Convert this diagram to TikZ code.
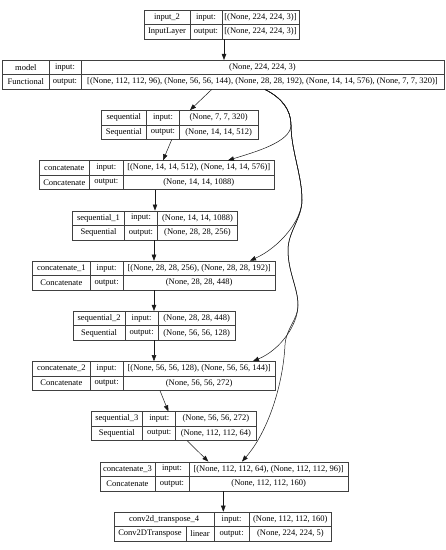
\documentclass[tikz,border=0pt]{standalone}
\usepackage{fontspec}
\setmainfont{Liberation Serif}
\usetikzlibrary{arrows.meta}
\tikzset{
 cell/.style={draw=black!75, line width=0.55pt, inner sep=0pt, font=\fontsize{8.5}{10}\selectfont, anchor=center},
 edge/.style={draw=black!90, line width=0.5pt, -{Triangle[length=6pt,width=4.5pt]}},
}
\newcommand{\cellnode}[6]{\node[cell, minimum width={#3-#2}, minimum height={#5-#4}] (#1) at ({(#2+#3)/2},{(#4+#5)/2}) {#6};}
\begin{document}
\begin{tikzpicture}[x=1pt,y=-1pt]
\fill[white] (0,0) rectangle (446,550);
\useasboundingbox (0,0) rectangle (446,550);
% input_2
\cellnode{iA}{144}{190}{10}{24.5}{input\_2}
\cellnode{iB}{190}{222}{10}{24.5}{input:}
\cellnode{iC}{222}{299}{10}{24.5}{[(None, 224, 224, 3)]}
\cellnode{iD}{144}{190}{24.5}{39}{InputLayer}
\cellnode{iE}{190}{222}{24.5}{39}{output:}
\cellnode{iF}{222}{299}{24.5}{39}{[(None, 224, 224, 3)]}
% model
\cellnode{mA}{2.7}{49}{60.2}{74.7}{model}
\cellnode{mB}{49}{81}{60.2}{74.7}{input:}
\cellnode{mC}{81}{444}{60.2}{74.7}{(None, 224, 224, 3)}
\cellnode{mD}{2.7}{49}{74.7}{89.2}{Functional}
\cellnode{mE}{49}{81}{74.7}{89.2}{output:}
\cellnode{mF}{81}{444}{74.7}{89.2}{[(None, 112, 112, 96), (None, 56, 56, 144), (None, 28, 28, 192), (None, 14, 14, 576), (None, 7, 7, 320)]}
% sequential
\cellnode{sA}{101}{146.7}{110.4}{124.9}{sequential}
\cellnode{sB}{146.7}{179.3}{110.4}{124.9}{input:}
\cellnode{sC}{179.3}{258}{110.4}{124.9}{(None, 7, 7, 320)}
\cellnode{sD}{101}{146.7}{124.9}{139.4}{Sequential}
\cellnode{sE}{146.7}{179.3}{124.9}{139.4}{output:}
\cellnode{sF}{179.3}{258}{124.9}{139.4}{(None, 14, 14, 512)}
% concatenate
\cellnode{cA}{39.3}{89.3}{160.6}{175.1}{concatenate}
\cellnode{cB}{89.3}{123.3}{160.6}{175.1}{input:}
\cellnode{cC}{123.3}{274.3}{160.6}{175.1}{[(None, 14, 14, 512), (None, 14, 14, 576)]}
\cellnode{cD}{39.3}{89.3}{175.1}{189.6}{Concatenate}
\cellnode{cE}{89.3}{123.3}{175.1}{189.6}{output:}
\cellnode{cF}{123.3}{274.3}{175.1}{189.6}{(None, 14, 14, 1088)}
% sequential_1
\cellnode{saA}{72.7}{124.3}{210.8}{225.3}{sequential\_1}
\cellnode{saB}{124.3}{157.7}{210.8}{225.3}{input:}
\cellnode{saC}{157.7}{237.3}{210.8}{225.3}{(None, 14, 14, 1088)}
\cellnode{saD}{72.7}{124.3}{225.3}{239.8}{Sequential}
\cellnode{saE}{124.3}{157.7}{225.3}{239.8}{output:}
\cellnode{saF}{157.7}{237.3}{225.3}{239.8}{(None, 28, 28, 256)}
% concatenate_1
\cellnode{caA}{32.7}{90}{261}{275.5}{concatenate\_1}
\cellnode{caB}{90}{123.3}{261}{275.5}{input:}
\cellnode{caC}{123.3}{275}{261}{275.5}{[(None, 28, 28, 256), (None, 28, 28, 192)]}
\cellnode{caD}{32.7}{90}{275.5}{290}{Concatenate}
\cellnode{caE}{90}{123.3}{275.5}{290}{output:}
\cellnode{caF}{123.3}{275}{275.5}{290}{(None, 28, 28, 448)}
% sequential_2
\cellnode{sbA}{73.3}{125}{311.2}{325.7}{sequential\_2}
\cellnode{sbB}{125}{158.3}{311.2}{325.7}{input:}
\cellnode{sbC}{158.3}{235}{311.2}{325.7}{(None, 28, 28, 448)}
\cellnode{sbD}{73.3}{125}{325.7}{340.2}{Sequential}
\cellnode{sbE}{125}{158.3}{325.7}{340.2}{output:}
\cellnode{sbF}{158.3}{235}{325.7}{340.2}{(None, 56, 56, 128)}
% concatenate_2
\cellnode{cbA}{32.7}{90}{361.4}{375.9}{concatenate\_2}
\cellnode{cbB}{90}{123.3}{361.4}{375.9}{input:}
\cellnode{cbC}{123.3}{275}{361.4}{375.9}{[(None, 56, 56, 128), (None, 56, 56, 144)]}
\cellnode{cbD}{32.7}{90}{375.9}{390.4}{Concatenate}
\cellnode{cbE}{90}{123.3}{375.9}{390.4}{output:}
\cellnode{cbF}{123.3}{275}{375.9}{390.4}{(None, 56, 56, 272)}
% sequential_3
\cellnode{scA}{91}{142.7}{411.6}{426.1}{sequential\_3}
\cellnode{scB}{142.7}{175.7}{411.6}{426.1}{input:}
\cellnode{scC}{175.7}{256}{411.6}{426.1}{(None, 56, 56, 272)}
\cellnode{scD}{91}{142.7}{426.1}{440.6}{Sequential}
\cellnode{scE}{142.7}{175.7}{426.1}{440.6}{output:}
\cellnode{scF}{175.7}{256}{426.1}{440.6}{(None, 112, 112, 64)}
% concatenate_3
\cellnode{ccA}{100}{155}{461.8}{476.3}{concatenate\_3}
\cellnode{ccB}{155}{189}{461.8}{476.3}{input:}
\cellnode{ccC}{189}{348.3}{461.8}{476.3}{[(None, 112, 112, 64), (None, 112, 112, 96)]}
\cellnode{ccD}{100}{155}{476.3}{490.8}{Concatenate}
\cellnode{ccE}{155}{189}{476.3}{490.8}{output:}
\cellnode{ccF}{189}{348.3}{476.3}{490.8}{(None, 112, 112, 160)}
% conv2d_transpose_4
\cellnode{vA}{114}{214.3}{512}{526.5}{conv2d\_transpose\_4}
\cellnode{vB}{214.3}{249}{512}{526.5}{input:}
\cellnode{vC}{249}{331.7}{512}{526.5}{(None, 112, 112, 160)}
\cellnode{vD}{114}{186}{526.5}{541}{Conv2DTranspose}
\cellnode{vE}{186}{214.3}{526.5}{541}{linear}
\cellnode{vF}{214.3}{249}{526.5}{541}{output:}
\cellnode{vG}{249}{331.7}{526.5}{541}{(None, 224, 224, 5)}
% straight edges
\draw[edge] (224,0 |- iF.south) -- (224,0 |- mC.north);
\draw[edge] (211.7,0 |- mF.south) -- (190,0 |- sC.north);
\draw[edge] (171.7,0 |- sE.south) -- (163,0 |- cC.north);
\draw[edge] (155,0 |- cF.south) -- (155,0 |- saB.north);
\draw[edge] (154,0 |- saE.south) -- (154,0 |- caC.north);
\draw[edge] (154,0 |- caF.south) -- (154,0 |- sbB.north);
\draw[edge] (154,0 |- sbE.south) -- (154,0 |- cbC.north);
\draw[edge] (160,0 |- cbF.south) -- (168.3,0 |- scB.north);
\draw[edge] (187.3,0 |- scF.south) -- (208.3,0 |- ccC.north);
\draw[edge] (223.3,0 |- ccF.south) -- (223.3,0 |- vB.north);
% curved edges from model
\draw[edge] (265,0 |- mF.south) .. controls (282,98) and (291,110) .. (291,125)
  .. controls (291,142) and (255,152) .. (228,0 |- cC.north);
\draw[edge] (265,0 |- mF.south) .. controls (282,98) and (291,110) .. (291,125)
  .. controls (291,150) and (302,175) .. (302,200)
  .. controls (302,220) and (280,247) .. (250,0 |- caC.north);
\draw[edge] (265,0 |- mF.south) .. controls (282,98) and (291,110) .. (291,125)
  .. controls (291,150) and (302,175) .. (302,200)
  .. controls (302,218) and (288,232) .. (288,250)
  .. controls (288,272) and (298,288) .. (298,305)
  .. controls (298,325) and (280,350) .. (253,0 |- cbC.north);
\draw[edge] (265,0 |- mF.south) .. controls (282,98) and (291,110) .. (291,125)
  .. controls (291,150) and (302,175) .. (302,200)
  .. controls (302,218) and (288,232) .. (288,250)
  .. controls (288,272) and (298,288) .. (298,305)
  .. controls (298,320) and (286,328) .. (285,345)
  .. controls (283,385) and (268,432) .. (242,0 |- ccC.north);
\end{tikzpicture}
\end{document}
